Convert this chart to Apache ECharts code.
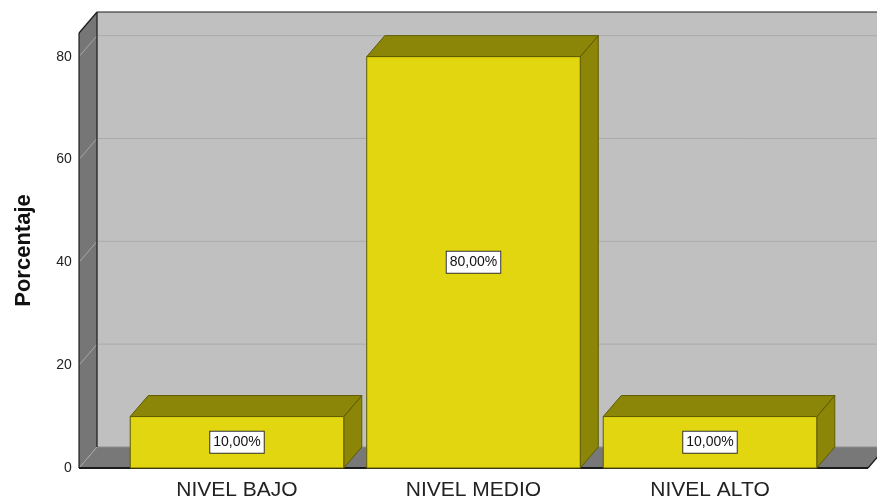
<!DOCTYPE html>
<html>
<head>
<meta charset="utf-8">
<script src="https://cdn.jsdelivr.net/npm/echarts@6/dist/echarts.min.js"></script>
<style>
html,body{margin:0;padding:0;background:#fff;}
#chart{width:877px;height:504px;}
</style>
</head>
<body>
<div id="chart"></div>
<script>
var categories = ['NIVEL BAJO', 'NIVEL MEDIO', 'NIVEL ALTO'];
var percentages = [10, 80, 10];
var valueLabels = ['10,00%', '80,00%', '10,00%'];
var yTicks = [0, 20, 40, 60, 80];
var yAxisName = 'Porcentaje';

var FONT = '"Liberation Sans", Arial, sans-serif';
var DX = 18, DY = 21;

var chart = echarts.init(document.getElementById('chart'));

function wallsRender(params, api) {
  var cs = params.coordSys;
  var band = api.size([1, 0])[0];
  var ext = band * 0.168;
  var xl = cs.x - ext, xr = cs.x + cs.width + ext;
  var yb = api.coord([0, 0])[1];
  var ytop = cs.y;
  var children = [];
  children.push({type: 'polygon', shape: {points: [[xl + DX, ytop - DY], [xr + DX + 40, ytop - DY], [xr + DX + 40, yb - DY], [xl + DX, yb - DY]]}, style: {fill: '#C0C0C0'}});
  children.push({type: 'polygon', shape: {points: [[xl, yb], [xr, yb], [xr + DX, yb - DY], [xl + DX, yb - DY]]}, style: {fill: '#787878'}});
  children.push({type: 'polygon', shape: {points: [[xl, yb], [xl + DX, yb - DY], [xl + DX, ytop - DY], [xl, ytop]]}, style: {fill: '#767676'}});
  yTicks.forEach(function (t) {
    var y = api.coord([0, t])[1];
    if (t > 0) {
      children.push({type: 'line', shape: {x1: xl + DX, y1: y - DY, x2: xr + DX + 40, y2: y - DY}, style: {stroke: '#ABABAB', lineWidth: 1}});
    } else {
      children.push({type: 'line', shape: {x1: xl + DX, y1: y - DY, x2: xr + DX, y2: y - DY}, style: {stroke: '#8E8E8E', lineWidth: 1}});
    }
    children.push({type: 'line', shape: {x1: xl, y1: y, x2: xl + DX, y2: y - DY}, style: {stroke: '#A6A6A6', lineWidth: 1}});
  });
  var edge = {stroke: '#1A1A1A', lineWidth: 1.2};
  children.push({type: 'line', shape: {x1: xl + DX, y1: ytop - DY, x2: xr + DX + 40, y2: ytop - DY}, style: edge});
  children.push({type: 'line', shape: {x1: xl + DX, y1: ytop - DY, x2: xl + DX, y2: yb - DY}, style: edge});
  children.push({type: 'line', shape: {x1: xl, y1: ytop, x2: xl + DX, y2: ytop - DY}, style: edge});
  children.push({type: 'line', shape: {x1: xl, y1: ytop, x2: xl, y2: yb}, style: edge});
  children.push({type: 'line', shape: {x1: xl, y1: yb, x2: xr, y2: yb}, style: {stroke: '#1A1A1A', lineWidth: 2}});
  children.push({type: 'line', shape: {x1: xr, y1: yb, x2: xr + DX, y2: yb - DY}, style: edge});
  return {type: 'group', children: children};
}

function barRender(params, api) {
  var c = api.value(0), v = api.value(1);
  var p0 = api.coord([c, 0]);
  var p1 = api.coord([c, v]);
  var bw = api.size([1, 0])[0] * 0.903;
  var x0 = p0[0] - bw / 2, x1 = x0 + bw;
  var yb = p0[1], yt = p1[1];
  var line = {stroke: '#5E5A00', lineWidth: 1};
  return {
    type: 'group',
    children: [
      {type: 'polygon', shape: {points: [[x1, yt], [x1 + DX, yt - DY], [x1 + DX, yb - DY], [x1, yb]]}, style: Object.assign({fill: '#8C8608'}, line)},
      {type: 'polygon', shape: {points: [[x0, yt], [x1, yt], [x1 + DX, yt - DY], [x0 + DX, yt - DY]]}, style: Object.assign({fill: '#8C8608'}, line)},
      {type: 'rect', shape: {x: x0, y: yt, width: bw, height: yb - yt}, style: Object.assign({fill: '#E2D610'}, line)},
      {type: 'text', x: p0[0], y: (yt + yb) / 2, style: {
        text: valueLabels[params.dataIndex], fill: '#111', font: '14px ' + FONT,
        align: 'center', verticalAlign: 'middle',
        backgroundColor: '#FFFFFF', borderColor: '#333333', borderWidth: 1, padding: [4, 3, 3, 3]
      }}
    ]
  };
}

chart.setOption({
  animation: false,
  grid: {left: 118.75, right: 48.75, top: 33, bottom: 36, outerBoundsMode: 'none'},
  xAxis: {
    type: 'category', data: categories, boundaryGap: true,
    axisLine: {show: false}, axisTick: {show: false},
    axisLabel: {fontSize: 21, color: '#222', fontFamily: FONT, margin: 12}
  },
  yAxis: {
    type: 'value', min: 0, max: 84.6, interval: 20,
    name: yAxisName, nameLocation: 'middle', nameGap: 84, nameMoveOverlap: false,
    nameTextStyle: {fontSize: 22, fontWeight: 'bold', color: '#111', fontFamily: FONT},
    axisLine: {show: false}, axisTick: {show: false}, splitLine: {show: false},
    axisLabel: {
      fontSize: 14, color: '#222', fontFamily: FONT, margin: 47,
      formatter: function (v) { return yTicks.indexOf(v) >= 0 ? String(v) : ''; }
    }
  },
  series: [
    {type: 'custom', renderItem: wallsRender, data: [[0, 0]], clip: false, z: 1, silent: true},
    {type: 'custom', renderItem: barRender, clip: false, z: 2,
      data: categories.map(function (c, i) { return [i, percentages[i]]; })}
  ]
});
</script>
</body>
</html>
